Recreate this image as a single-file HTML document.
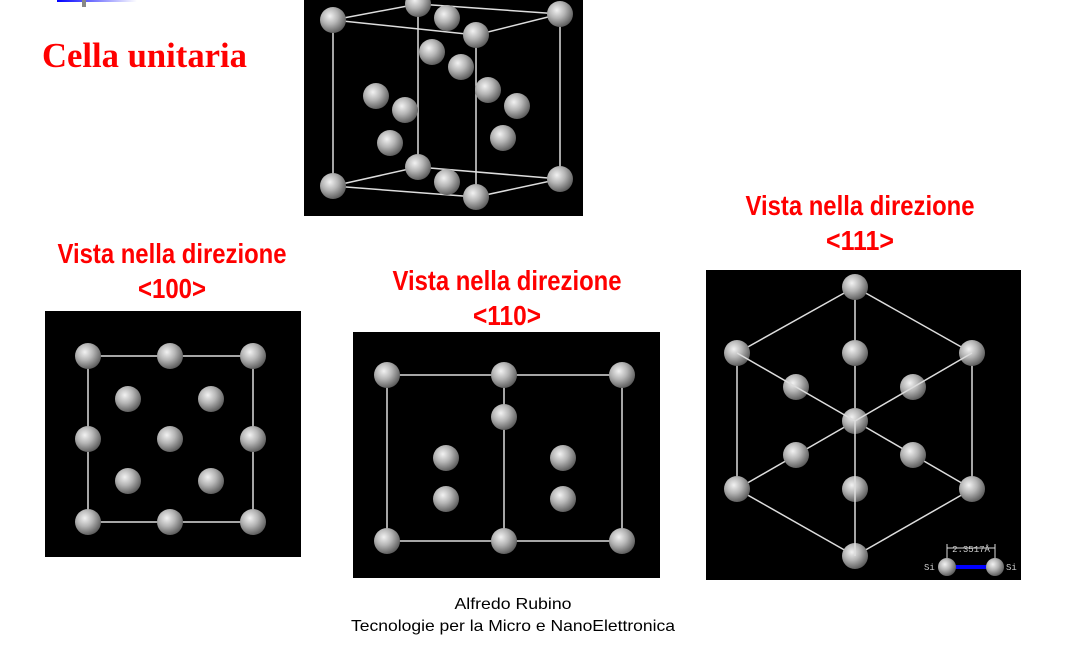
<!DOCTYPE html>
<html><head><meta charset="utf-8"><style>
html,body{margin:0;padding:0;background:#fff;width:1070px;height:649px;overflow:hidden}
svg{display:block}
</style></head><body>
<svg width="1070" height="649" viewBox="0 0 1070 649">
<defs>
<radialGradient id="ball" cx="0.38" cy="0.35" r="0.7">
<stop offset="0" stop-color="#f2f2f2"/><stop offset="0.45" stop-color="#b5b5b5"/><stop offset="1" stop-color="#555"/>
</radialGradient>
<linearGradient id="bar" x1="0" x2="1"><stop offset="0" stop-color="#0000ff"/><stop offset="1" stop-color="#fff"/></linearGradient>
</defs>
<rect x="57" y="0" width="80" height="2" fill="url(#bar)"/>
<rect x="82" y="0" width="4" height="7" fill="#888"/>
<text x="42" y="67" font-family="Liberation Serif, serif" font-weight="bold" font-size="35" fill="#f00" textLength="205" lengthAdjust="spacingAndGlyphs">Cella unitaria</text>

<g id="p1"><rect x="304" y="0" width="279" height="216" fill="#000"/></g>
<g id="p2"><rect x="45" y="311" width="256" height="246" fill="#000"/></g>
<g id="p3"><rect x="353" y="332" width="307" height="246" fill="#000"/></g>
<g id="p4"><rect x="706" y="270" width="315" height="310" fill="#000"/></g>

<g font-family="Liberation Sans, sans-serif" font-weight="bold" font-size="28" fill="#f00" text-anchor="middle">
<text x="172" y="263" textLength="229" lengthAdjust="spacingAndGlyphs">Vista nella direzione</text>
<text x="172" y="298" textLength="68" lengthAdjust="spacingAndGlyphs">&lt;100&gt;</text>
<text x="507" y="290" textLength="229" lengthAdjust="spacingAndGlyphs">Vista nella direzione</text>
<text x="507" y="325" textLength="68" lengthAdjust="spacingAndGlyphs">&lt;110&gt;</text>
<text x="860" y="215" textLength="229" lengthAdjust="spacingAndGlyphs">Vista nella direzione</text>
<text x="860" y="250" textLength="68" lengthAdjust="spacingAndGlyphs">&lt;111&gt;</text>
</g>
<g font-family="Liberation Sans, sans-serif" font-size="16" fill="#000" text-anchor="middle">
<text x="513" y="609" textLength="117" lengthAdjust="spacingAndGlyphs">Alfredo Rubino</text>
<text x="513" y="631" textLength="324" lengthAdjust="spacingAndGlyphs">Tecnologie per la Micro e NanoElettronica</text>
</g>
<g id="sb">
<line x1="947" y1="567" x2="995" y2="567" stroke="#00f" stroke-width="4"/>
<line x1="947" y1="548" x2="995" y2="548" stroke="#ddd" stroke-width="1"/>
<line x1="947" y1="544" x2="947" y2="562" stroke="#ddd" stroke-width="1"/>
<line x1="995" y1="544" x2="995" y2="562" stroke="#ddd" stroke-width="1"/>
<text x="971" y="552" font-family="Liberation Mono, monospace" font-size="9" fill="#ccc" text-anchor="middle">2.3517Å</text>
<text x="924" y="570" font-family="Liberation Mono, monospace" font-size="9" fill="#ccc">Si</text>
<text x="1006" y="570" font-family="Liberation Mono, monospace" font-size="9" fill="#ccc">Si</text>
</g>
</svg>
<script>
const NS='http://www.w3.org/2000/svg';
function line(g,a,b){const l=document.createElementNS(NS,'line');
l.setAttribute('x1',a[0]);l.setAttribute('y1',a[1]);l.setAttribute('x2',b[0]);l.setAttribute('y2',b[1]);
l.setAttribute('stroke','#ddd');l.setAttribute('stroke-width','1.5');


g.appendChild(l);}
function atom(g,p,r){const c=document.createElementNS(NS,'circle');
c.setAttribute('cx',p[0]);c.setAttribute('cy',p[1]);c.setAttribute('r',r||13);c.setAttribute('fill','url(#ball)');


g.appendChild(c);}
// unit cell
const g1=document.getElementById('p1');
const A=[333,20],B=[418,4],C=[560,14],D=[476,35],E=[333,186],F=[418,167],G=[560,179],H=[476,197];
[[A,B],[B,C],[C,D],[D,A],[E,F],[F,G],[G,H],[H,E],[A,E],[B,F],[C,G],[D,H]].forEach(s=>line(g1,s[0],s[1]));
[B,[447,18],C,A,D,[432,52],[461,67],[488,90],[517,106],[376,96],[405,110],[390,143],[503,138],F,[447,182],E,G,H].forEach(p=>atom(g1,p));
// 100
const g2=document.getElementById('p2');
[[[88,356],[253,356]],[[253,356],[253,522]],[[253,522],[88,522]],[[88,522],[88,356]]].forEach(s=>line(g2,s[0],s[1]));
[[88,356],[170,356],[253,356],[128,399],[211,399],[88,439],[170,439],[253,439],[128,481],[211,481],[88,522],[170,522],[253,522]].forEach(p=>atom(g2,p));
// 110
const g3=document.getElementById('p3');
[[[387,375],[622,375]],[[622,375],[622,541]],[[622,541],[387,541]],[[387,541],[387,375]],[[504,375],[504,541]]].forEach(s=>line(g3,s[0],s[1]));
[[387,375],[504,375],[622,375],[504,417],[446,458],[563,458],[446,499],[563,499],[387,541],[504,541],[622,541]].forEach(p=>atom(g3,p));
// 111
const g4=document.getElementById('p4');
const hex=[[855,287],[972,353],[972,489],[855,556],[737,489],[737,353]];const ctr=[855,421];
for(let i=0;i<6;i++)line(g4,hex[i],hex[(i+1)%6]);
[hex[0],hex[2],hex[4]].forEach(p=>line(g4,ctr,p));
[[855,287],[737,353],[855,353],[972,353],[796,387],[913,387],ctr,[796,455],[913,455],[737,489],[855,489],[972,489],[855,556]].forEach(p=>atom(g4,p));
// front lines over atoms
[hex[1],hex[3],hex[5]].forEach(p=>line(g4,ctr,p));
const sb=document.getElementById('sb');g4.parentNode.appendChild(sb);
[[947,567],[995,567]].forEach(p=>atom(sb,p,9));
</script>
</body></html>
